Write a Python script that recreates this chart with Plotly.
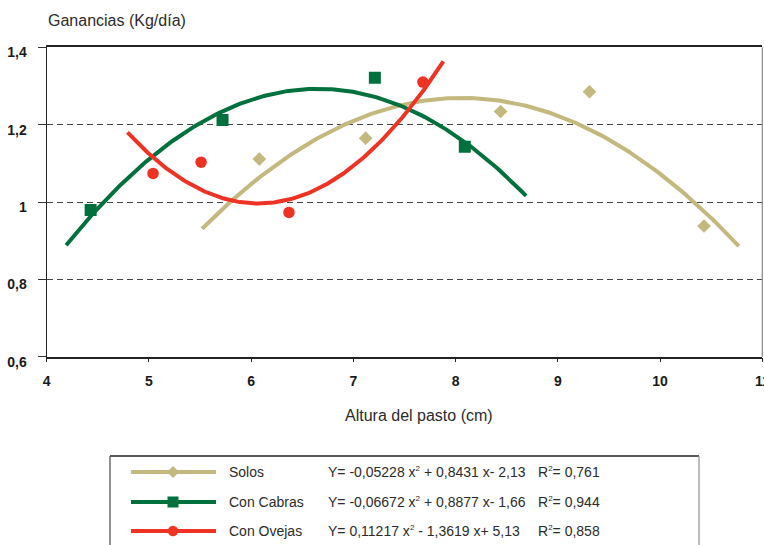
import numpy as np
import plotly.graph_objects as go

# ---------------- data ----------------
series_names = ["Solos", "Con Cabras", "Con Ovejas"]

solos_x = [6.08, 7.12, 8.44, 9.31, 10.43]
solos_y = [1.111, 1.165, 1.234, 1.285, 0.938]

cabras_x = [4.43, 5.72, 7.21, 8.09]
cabras_y = [0.979, 1.212, 1.321, 1.143]

ovejas_x = [5.04, 5.51, 6.37, 7.68]
ovejas_y = [1.074, 1.103, 0.973, 1.31]

# trend-line coefficients as printed in the legend (a*x^2 + b*x + c)
solos_coef = [-0.05228, 0.8431, -2.13]
cabras_coef = [-0.06672, 0.8877, -1.66]
ovejas_coef = [0.11217, -1.3619, 5.13]

# x-extent of each drawn trend line
solos_fit_range = [5.52, 10.77]
cabras_fit_range = [4.19, 8.69]
ovejas_fit_range = [4.79, 7.88]

SUP2 = "<sup><span style='font-size:8px'>2</span></sup>"
equations = [
    f"Y= -0,05228 x{SUP2} + 0,8431 x- 2,13",
    f"Y= -0,06672 x{SUP2} + 0,8877 x- 1,66",
    f"Y= 0,11217 x{SUP2} - 1,3619 x+ 5,13",
]
r2_labels = [f"R{SUP2}= 0,761", f"R{SUP2}= 0,944", f"R{SUP2}= 0,858"]

x_tickvals = [4, 5, 6, 7, 8, 9, 10, 11]
y_tickvals = [0.6, 0.8, 1.0, 1.2, 1.4]
y_ticktext = ["0,6", "0,8", "1", "1,2", "1,4"]

y_title = "Ganancias (Kg/día)"
x_title = "Altura del pasto (cm)"

# ---------------- styles ----------------
TAN = "#C3B87D"
GREEN = "#00703C"
RED = "#EE3224"
TXT = "#2b2b2b"
FONT = "Liberation Sans, Arial, Helvetica, sans-serif"

W, H = 764, 545


def fx(px):
    return px / W


def fy(py):
    return 1 - py / H


def trend(coef, rng):
    xs = np.linspace(rng[0], rng[1], 200)
    return xs, np.polyval(coef, xs)


fig = go.Figure()

series = [
    (solos_x, solos_y, solos_coef, solos_fit_range, TAN, "diamond", 10.5),
    (cabras_x, cabras_y, cabras_coef, cabras_fit_range, GREEN, "square", 12),
    (ovejas_x, ovejas_y, ovejas_coef, ovejas_fit_range, RED, "circle", 11.5),
]

for (sx, sy, coef, rng, col, sym, msize), name in zip(series, series_names):
    tx, ty = trend(coef, rng)
    fig.add_trace(go.Scatter(x=tx, y=ty, mode="lines", name=name,
                             line=dict(color=col, width=4), hoverinfo="skip",
                             showlegend=False))
for (sx, sy, coef, rng, col, sym, msize), name in zip(series, series_names):
    fig.add_trace(go.Scatter(x=sx, y=sy, mode="markers", name=name,
                             marker=dict(color=col, symbol=sym, size=msize,
                                         line=dict(width=0)),
                             showlegend=False))

fig.update_layout(
    width=W, height=H,
    margin=dict(l=0, r=0, t=0, b=0),
    paper_bgcolor="white", plot_bgcolor="white",
    font=dict(family=FONT, color=TXT),
    showlegend=False,
    xaxis=dict(
        domain=[fx(46.7), fx(762.3)], range=[4, 11],
        tickvals=x_tickvals, ticks="outside", ticklen=4, tickcolor="#222",
        tickfont=dict(family=FONT, size=14, color="#1a1a1a", weight="bold"),
        ticklabelstandoff=7, ticklabeloverflow="allow",
        showline=True, linecolor="#222", linewidth=1.5, mirror=True,
        showgrid=False, zeroline=False, automargin=False,
    ),
    yaxis=dict(
        domain=[fy(356.7), fy(47.3)], range=[0.6, 1.4],
        tickvals=y_tickvals, ticktext=y_ticktext,
        ticks="outside", ticklen=8, tickcolor="#333",
        tickfont=dict(family=FONT, size=14, color="#1a1a1a", weight="bold"),
        ticklabelshift=5, ticklabelstandoff=8, ticklabeloverflow="allow",
        showline=True, linecolor="#222", linewidth=1.2, mirror=False,
        showgrid=True, gridcolor="#444", gridwidth=1, griddash="6px,4px",
        zeroline=False, automargin=False,
    ),
)

shapes = []
# right frame (grey)
shapes.append(dict(type="line", xref="paper", yref="paper",
                   x0=fx(762.3), x1=fx(762.3), y0=fy(356.7), y1=fy(47.3),
                   line=dict(color="#888", width=1.2)))

# legend box
shapes.append(dict(type="line", xref="paper", yref="paper",
                   x0=fx(110), x1=fx(699), y0=fy(456), y1=fy(456),
                   line=dict(color="#222", width=1.3)))
shapes.append(dict(type="line", xref="paper", yref="paper",
                   x0=fx(110), x1=fx(110), y0=fy(456), y1=fy(560),
                   line=dict(color="#555", width=1.3)))
shapes.append(dict(type="line", xref="paper", yref="paper",
                   x0=fx(699), x1=fx(699), y0=fy(456), y1=fy(560),
                   line=dict(color="#999", width=1.3)))

row_y = [472, 502, 531]
cols = [TAN, GREEN, RED]
mx = 173
for ry, col, (_, _, _, _, _, sym, _) in zip(row_y, cols, series):
    shapes.append(dict(type="line", xref="paper", yref="paper",
                       x0=fx(131), x1=fx(216), y0=fy(ry), y1=fy(ry),
                       line=dict(color=col, width=4)))
    if sym == "diamond":
        r = 6
        path = (f"M {fx(mx)},{fy(ry - r)} L {fx(mx + r)},{fy(ry)} "
                f"L {fx(mx)},{fy(ry + r)} L {fx(mx - r)},{fy(ry)} Z")
        shapes.append(dict(type="path", xref="paper", yref="paper", path=path,
                           fillcolor=col, line=dict(width=0)))
    elif sym == "square":
        r = 5.5
        shapes.append(dict(type="rect", xref="paper", yref="paper",
                           x0=fx(mx - r), x1=fx(mx + r), y0=fy(ry - r), y1=fy(ry + r),
                           fillcolor=col, line=dict(width=0)))
    else:
        r = 5.2
        shapes.append(dict(type="circle", xref="paper", yref="paper",
                           x0=fx(mx - r), x1=fx(mx + r), y0=fy(ry - r), y1=fy(ry + r),
                           fillcolor=col, line=dict(width=0)))

annotations = []
for ry, name, eq, r2 in zip(row_y, series_names, equations, r2_labels):
    for xx, txt in [(227, name), (326, eq), (536, r2)]:
        annotations.append(dict(xref="paper", yref="paper", x=fx(xx), y=fy(ry),
                                xanchor="left", yanchor="middle", text=txt,
                                showarrow=False,
                                font=dict(family=FONT, size=14, color=TXT)))

annotations.append(dict(xref="paper", yref="paper", x=fx(46), y=fy(20),
                        xanchor="left", yanchor="middle", text=y_title,
                        showarrow=False, font=dict(family=FONT, size=16, color=TXT)))
annotations.append(dict(xref="paper", yref="paper", x=fx(418.5), y=fy(415),
                        xanchor="center", yanchor="middle", text=x_title,
                        showarrow=False, font=dict(family=FONT, size=16, color=TXT)))

fig.update_layout(shapes=shapes, annotations=annotations)

fig.write_html("out.html",
               config={"displayModeBar": False},
               post_script="document.body.style.margin='0px';"
                           "document.body.style.overflow='hidden';")
